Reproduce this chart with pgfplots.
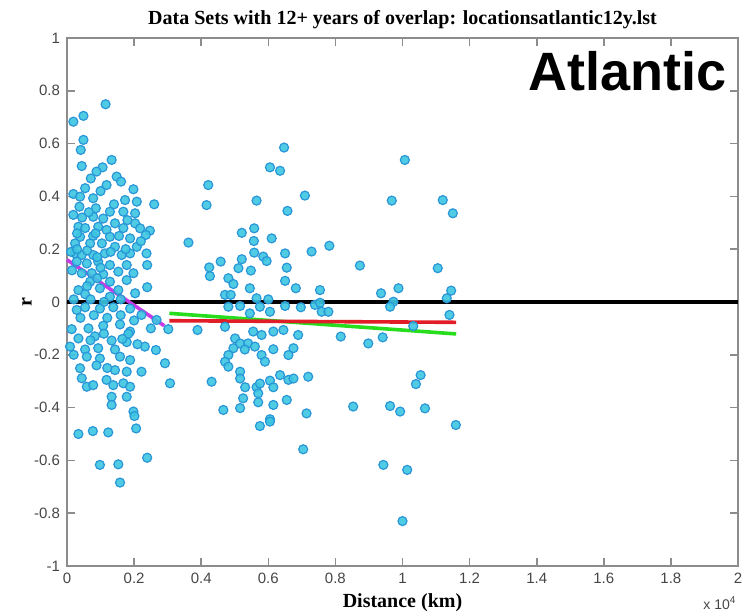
\documentclass[border=0pt]{standalone}
\usepackage{pgfplots}
\pgfplotsset{compat=1.18}
\usepackage{fontspec}
\setmainfont{Liberation Serif}
\newfontfamily\arial{Liberation Sans}
\definecolor{mk}{RGB}{60,198,225}
\definecolor{mkedge}{RGB}{40,150,215}
\definecolor{axgray}{RGB}{140,140,140}
\definecolor{tickgray}{RGB}{70,70,70}
\definecolor{mag}{RGB}{200,60,230}
\definecolor{grn}{RGB}{40,220,30}
\definecolor{rd}{RGB}{225,30,40}
\begin{document}
\begin{tikzpicture}
\begin{axis}[
  scale only axis,
  width=335.5pt, height=264pt,
  xmin=0, xmax=2, ymin=-1, ymax=1,
  xtick={0,0.2,0.4,0.6,0.8,1,1.2,1.4,1.6,1.8,2},
  xticklabels={0,0.2,0.4,0.6,0.8,1,1.2,1.4,1.6,1.8,2},
  ytick={-1,-0.8,-0.6,-0.4,-0.2,0,0.2,0.4,0.6,0.8,1},
  yticklabels={-1,-0.8,-0.6,-0.4,-0.2,0,0.2,0.4,0.6,0.8,1},
  tick align=inside, tick pos=both,
  major tick length=4pt,
  axis line style={draw=axgray, line width=0.8pt},
  every tick/.style={draw=axgray, line width=0.8pt},
  ticklabel style={font=\arial\fontsize{7.5}{9}\selectfont, text=tickgray},
  every axis title shift=0pt,
  title={Data Sets with 12+ years of overlap: locationsatlantic12y.lst},
  title style={font=\bfseries\fontsize{10}{12}\selectfont, at={(axis description cs:0.5,1)}, anchor=center, yshift=9pt},
  xlabel={Distance (km)},
  xlabel style={font=\bfseries\fontsize{10}{12}\selectfont, at={(axis description cs:0.5,0)}, anchor=center, yshift=-18.5pt},
  ylabel={r},
  ylabel style={font=\bfseries\fontsize{10}{12}\selectfont, at={(axis description cs:-0.0596,0.5)}, anchor=center},
  clip=false,
]
\addplot[only marks, mark=*, mark size=2.25pt, mark options={fill=mk, draw=mkedge, line width=0.6pt, fill opacity=0.9}] table {
x y
0.019 0.683
0.049 0.705
0.115 0.749
0.049 0.614
0.041 0.576
0.044 0.515
0.133 0.538
0.106 0.510
0.088 0.494
0.071 0.468
0.148 0.475
0.161 0.456
0.118 0.443
0.198 0.427
0.054 0.431
0.019 0.409
0.039 0.399
0.078 0.393
0.173 0.386
0.208 0.380
0.260 0.370
0.037 0.361
0.086 0.355
0.019 0.330
0.128 0.342
0.168 0.342
0.203 0.336
0.078 0.323
0.108 0.316
0.143 0.298
0.203 0.298
0.034 0.285
0.054 0.280
0.093 0.285
0.118 0.273
0.168 0.280
0.218 0.279
0.247 0.270
0.039 0.247
0.078 0.250
0.128 0.247
0.188 0.241
0.235 0.254
0.024 0.222
0.069 0.222
0.104 0.222
0.143 0.209
0.208 0.209
0.024 0.184
0.044 0.178
0.078 0.178
0.113 0.184
0.163 0.178
0.188 0.184
0.237 0.184
0.029 0.153
0.059 0.146
0.093 0.153
0.128 0.140
0.178 0.140
0.239 0.140
0.044 0.109
0.074 0.109
0.108 0.105
0.153 0.115
0.198 0.109
0.178 0.083
0.069 0.077
0.128 0.077
0.034 0.045
0.098 0.052
0.153 0.045
0.203 0.033
0.239 0.056
0.054 0.030
0.128 0.020
0.012 0.190
0.030 0.200
0.060 0.195
0.090 0.170
0.015 0.120
0.100 0.130
0.060 0.060
0.090 0.090
0.020 0.010
0.160 0.010
0.110 0.000
0.070 0.010
0.045 0.320
0.065 0.340
0.100 0.420
0.030 0.260
0.085 0.260
0.140 0.370
0.155 0.250
0.180 0.310
0.220 0.230
0.130 0.190
0.175 0.200
0.029 -0.030
0.054 -0.020
0.098 -0.025
0.138 -0.020
0.188 -0.025
0.222 -0.049
0.267 -0.068
0.302 -0.103
0.014 -0.103
0.064 -0.100
0.108 -0.090
0.158 -0.085
0.188 -0.112
0.183 -0.120
0.034 -0.138
0.083 -0.130
0.133 -0.146
0.178 -0.152
0.009 -0.169
0.054 -0.180
0.093 -0.175
0.143 -0.180
0.232 -0.169
0.265 -0.182
0.059 -0.207
0.098 -0.214
0.158 -0.207
0.188 -0.220
0.039 -0.251
0.088 -0.240
0.143 -0.258
0.178 -0.264
0.222 -0.264
0.292 -0.232
0.307 -0.308
0.044 -0.289
0.059 -0.321
0.078 -0.315
0.118 -0.295
0.138 -0.315
0.168 -0.308
0.188 -0.321
0.133 -0.359
0.133 -0.390
0.178 -0.359
0.198 -0.415
0.201 -0.432
0.206 -0.479
0.034 -0.500
0.077 -0.489
0.123 -0.494
0.098 -0.617
0.153 -0.615
0.158 -0.684
0.239 -0.590
0.040 -0.060
0.080 -0.050
0.120 -0.060
0.160 -0.050
0.200 -0.070
0.020 -0.200
0.110 -0.120
0.070 -0.145
0.120 -0.250
0.165 -0.140
0.210 -0.160
0.250 -0.100
0.421 0.443
0.416 0.367
0.565 0.384
0.709 0.403
0.657 0.345
0.647 0.585
0.605 0.510
0.635 0.497
0.362 0.225
0.521 0.262
0.558 0.279
0.557 0.231
0.610 0.241
0.729 0.191
0.650 0.184
0.558 0.187
0.585 0.172
0.595 0.155
0.521 0.162
0.458 0.153
0.424 0.131
0.426 0.098
0.511 0.128
0.548 0.119
0.655 0.130
0.481 0.090
0.496 0.068
0.545 0.052
0.650 0.080
0.682 0.052
0.754 0.045
0.471 0.027
0.488 0.027
0.565 0.014
0.600 0.010
0.481 -0.018
0.575 -0.018
0.739 -0.011
0.516 -0.015
0.545 -0.043
0.605 -0.037
0.650 -0.015
0.697 -0.020
0.759 -0.037
0.389 -0.106
0.471 -0.094
0.555 -0.112
0.580 -0.125
0.615 -0.112
0.645 -0.106
0.689 -0.125
0.501 -0.138
0.516 -0.157
0.540 -0.157
0.560 -0.169
0.496 -0.175
0.530 -0.180
0.615 -0.179
0.580 -0.201
0.481 -0.201
0.675 -0.175
0.660 -0.201
0.471 -0.226
0.590 -0.226
0.481 -0.245
0.516 -0.264
0.431 -0.302
0.516 -0.290
0.531 -0.323
0.565 -0.323
0.575 -0.309
0.605 -0.298
0.615 -0.323
0.635 -0.277
0.660 -0.295
0.675 -0.290
0.719 -0.283
0.570 -0.346
0.525 -0.365
0.615 -0.390
0.655 -0.371
0.466 -0.409
0.516 -0.402
0.570 -0.380
0.605 -0.444
0.575 -0.470
0.714 -0.422
0.605 -0.453
0.704 -0.558
1.007 0.538
0.968 0.384
1.120 0.386
1.150 0.336
0.782 0.213
0.873 0.138
1.105 0.128
0.936 0.033
0.988 0.052
1.145 0.043
1.132 0.014
0.973 0.001
0.963 -0.018
0.754 -0.003
0.779 -0.037
1.140 -0.049
1.032 -0.091
0.816 -0.131
0.898 -0.157
0.941 -0.134
1.054 -0.277
1.040 -0.311
0.853 -0.396
0.963 -0.394
0.993 -0.415
1.067 -0.403
1.159 -0.466
0.943 -0.617
1.014 -0.636
1.000 -0.830
};
\addplot[black, line width=2.3pt] coordinates {(0,0) (2,0)};
\addplot[mag, line width=1.8pt] coordinates {(0,0.16) (0.29,-0.09)};
\addplot[grn, line width=1.8pt] coordinates {(0.305,-0.043) (1.16,-0.121)};
\addplot[rd, line width=1.8pt] coordinates {(0.305,-0.071) (1.16,-0.077)};
\node[anchor=base, font=\arial\bfseries\fontsize{27}{30}\selectfont] at (axis cs:1.67,0.80) {Atlantic};
\end{axis}
\node[font=\arial\fontsize{7}{8}\selectfont, text=tickgray] at (326.5pt,-18.5pt) {x 10\textsuperscript{4}};
\pgfresetboundingbox
\path (-33.5pt,-23.5pt) rectangle (338.5pt,283pt);
\end{tikzpicture}
\end{document}
